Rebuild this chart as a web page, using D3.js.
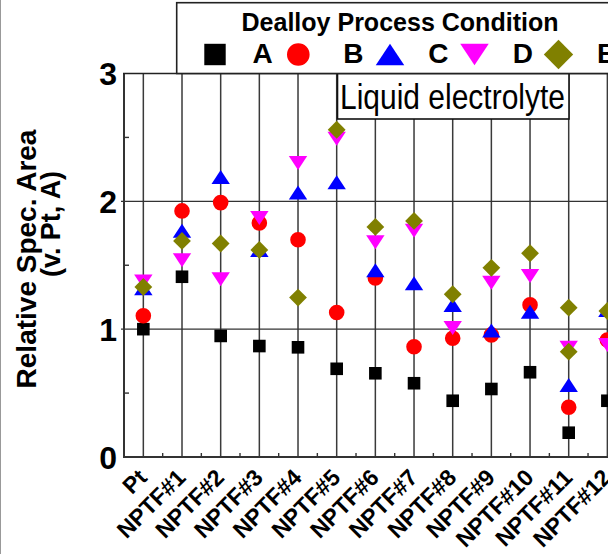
<!DOCTYPE html>
<html>
<head>
<meta charset="utf-8">
<script src="https://cdn.jsdelivr.net/npm/d3@7/dist/d3.min.js"></script>
<style>
  html, body { margin: 0; padding: 0; background: #fff; }
  svg { display: block; }
  text { font-family: "Liberation Sans", Arial, Helvetica, sans-serif; }
</style>
</head>
<body>
<script>
// Samples along the x axis
const categories = ["Pt", "NPTF#1", "NPTF#2", "NPTF#3", "NPTF#4", "NPTF#5", "NPTF#6",
  "NPTF#7", "NPTF#8", "NPTF#9", "NPTF#10", "NPTF#11", "NPTF#12"];

// Relative specific area per dealloy process condition
const seriesA = [1.00, 1.41, 0.947, 0.868, 0.858, 0.69, 0.655, 0.577, 0.44, 0.532, 0.663, 0.19, 0.44];
const seriesB = [1.105, 1.925, 1.99, 1.83, 1.70, 1.13, 1.40, 0.863, 0.929, 0.955, 1.19, 0.389, 0.915];
const seriesC = [1.32, 1.77, 2.19, 1.62, 2.07, 2.15, 1.46, 1.36, 1.19, 0.99, 1.137, 0.563, 1.15];
const seriesD = [1.372, 1.54, 1.39, 1.87, 2.30, 2.49, 1.68, 1.77, 1.01, 1.364, 1.416, 0.855, 0.876];
const seriesE = [1.33, 1.69, 1.67, 1.62, 1.247, 2.56, 1.80, 1.847, 1.273, 1.48, 1.594, 1.168, 1.142];
// second condition-E measurement on NPTF#11
const seriesERepeat = [null, null, null, null, null, null, null, null, null, null, null, 0.824, null];

const seriesNames = ["A", "B", "C", "D", "E"];
const yTicks = [0, 1, 2, 3];
const yGrid = [1, 2];
const yMinor = [0.5, 1.5, 2.5];

const W = 608, H = 554;
const svg = d3.select("body").append("svg").attr("width", W).attr("height", H);

const plotLeft = 124, plotTop = 73.5, plotBottom = 457;
const step = 38.67;

const x = d3.scaleBand().domain(categories)
  .range([plotLeft, plotLeft + step * categories.length]).padding(0);
const cx = c => x(c) + x.bandwidth() / 2;
const y = d3.scaleLinear().domain([0, 3]).range([plotBottom, plotTop]);
const plotRight = plotLeft + step * categories.length + 40;

// marker shapes; "size" is a scale factor
const shapeSquare = { draw(ctx, s) { const h = 6.3 * s; ctx.rect(-h, -h, 2 * h, 2 * h); } };
const shapeCircle = { draw(ctx, s) { const r = 7.8 * s; ctx.moveTo(r, 0); ctx.arc(0, 0, r, 0, 2 * Math.PI); } };
const shapeUp = { draw(ctx, s) { const w = 9.2 * s, h = 7 * s; ctx.moveTo(0, -h); ctx.lineTo(w, h); ctx.lineTo(-w, h); ctx.closePath(); } };
const shapeDown = { draw(ctx, s) { const w = 9.2 * s, h = 7 * s; ctx.moveTo(0, h); ctx.lineTo(w, -h); ctx.lineTo(-w, -h); ctx.closePath(); } };
const shapeDiamond = { draw(ctx, s) { const w = 8.9 * s, h = 8.9 * s; ctx.moveTo(0, -h); ctx.lineTo(w, 0); ctx.lineTo(0, h); ctx.lineTo(-w, 0); ctx.closePath(); } };

const series = [
  { name: "A", values: seriesA, shape: shapeSquare, color: "#000000" },
  { name: "B", values: seriesB, shape: shapeCircle, color: "#ff0000" },
  { name: "C", values: seriesC, shape: shapeUp, color: "#0000ff" },
  { name: "D", values: seriesD, shape: shapeDown, color: "#ff00ff" },
  { name: "E", values: seriesE, shape: shapeDiamond, color: "#808000" }
];
const extraE = { name: "E", values: seriesERepeat, shape: shapeDiamond, color: "#808000" };

// figure edge line
svg.append("line").attr("x1", 0.5).attr("x2", 0.5).attr("y1", 0).attr("y2", H)
  .attr("stroke", "#999").attr("stroke-width", 1);

// vertical drop lines at each sample
svg.append("g").selectAll("line").data(categories).join("line")
  .attr("x1", d => cx(d)).attr("x2", d => cx(d))
  .attr("y1", plotTop).attr("y2", plotBottom)
  .attr("stroke", "#3a3a3a").attr("stroke-width", 1.5);

// horizontal gridlines
svg.append("g").selectAll("line").data(yGrid).join("line")
  .attr("x1", plotLeft - 3).attr("x2", plotRight)
  .attr("y1", d => y(d)).attr("y2", d => y(d))
  .attr("stroke", "#333").attr("stroke-width", 1.4);

// minor y ticks
svg.append("g").selectAll("line").data(yMinor).join("line")
  .attr("x1", plotLeft - 1).attr("x2", plotLeft + 5)
  .attr("y1", d => y(d)).attr("y2", d => y(d))
  .attr("stroke", "#333").attr("stroke-width", 1.4);

// minor x ticks between samples
const mids = categories.map(c => x(c)).slice(1);
svg.append("g").selectAll("line").data(mids).join("line")
  .attr("x1", d => d).attr("x2", d => d)
  .attr("y1", plotBottom).attr("y2", plotBottom - 4)
  .attr("stroke", "#333").attr("stroke-width", 1.4);

// frame: left, bottom, top
svg.append("line").attr("x1", plotLeft).attr("x2", plotLeft)
  .attr("y1", plotTop).attr("y2", plotBottom + 1)
  .attr("stroke", "#333").attr("stroke-width", 2);
svg.append("line").attr("x1", plotLeft - 1).attr("x2", plotRight)
  .attr("y1", plotBottom).attr("y2", plotBottom)
  .attr("stroke", "#333").attr("stroke-width", 2);
svg.append("line").attr("x1", plotLeft - 1).attr("x2", plotRight)
  .attr("y1", plotTop).attr("y2", plotTop)
  .attr("stroke", "#222").attr("stroke-width", 1.6);

// y tick labels
svg.append("g").selectAll("text").data(yTicks).join("text")
  .attr("x", 117).attr("y", d => y(d)).attr("dy", "0.36em")
  .attr("text-anchor", "end").attr("font-weight", "bold").attr("font-size", 32)
  .text(d => d);

// y axis title
svg.append("text")
  .attr("transform", "translate(35.5,259) rotate(-90)")
  .attr("text-anchor", "middle").attr("font-weight", "bold").attr("font-size", 28)
  .text("Relative Spec. Area");
svg.append("text")
  .attr("transform", "translate(60,224) rotate(-90)")
  .attr("text-anchor", "middle").attr("font-weight", "bold").attr("font-size", 27)
  .attr("textLength", 106).attr("lengthAdjust", "spacingAndGlyphs")
  .text("(v. Pt, A)");

// x tick labels
svg.append("g").selectAll("text").data(categories).join("text")
  .attr("transform", d => `translate(${cx(d) + 5},${479}) rotate(-45)`)
  .attr("text-anchor", "end").attr("font-weight", "bold").attr("font-size", 23)
  .text(d => d);

// markers
const symbolGen = d3.symbol();
[...series, extraE].forEach(s => {
  const pts = categories.map((c, i) => ({ c, v: s.values[i] })).filter(p => p.v != null);
  svg.append("g").selectAll("path").data(pts).join("path")
    .attr("transform", p => `translate(${cx(p.c)},${y(p.v)})`)
    .attr("d", symbolGen.type(s.shape).size(1)())
    .attr("fill", s.color);
});

// "Liquid electrolyte" label box
svg.append("rect").attr("x", 337.5).attr("y", 73.5).attr("width", 231.5).attr("height", 45.5)
  .attr("fill", "#fff").attr("stroke", "#111").attr("stroke-width", 1.6);
svg.append("text").attr("x", 340).attr("y", 108.5)
  .attr("font-size", 35).attr("textLength", 225).attr("lengthAdjust", "spacingAndGlyphs")
  .text("Liquid electrolyte");

// legend box
svg.append("rect").attr("x", 176.7).attr("y", 2.7).attr("width", 500).attr("height", 70.8)
  .attr("fill", "#fff").attr("stroke", "#222").attr("stroke-width", 1.6);
svg.append("text").attr("x", 241.5).attr("y", 30.5)
  .attr("font-size", 25).attr("font-weight", "bold")
  .attr("textLength", 317).attr("lengthAdjust", "spacingAndGlyphs")
  .text("Dealloy Process Condition");

const legendSymbolX = [215, 298.3, 390, 474.5, 558.5];
const legendTextX = [252.5, 343.3, 428.3, 512.7, 597];
const legendScale = [1.7, 1.45, 1.55, 1.55, 1.65];
series.forEach((s, i) => {
  svg.append("path")
    .attr("d", symbolGen.type(s.shape).size(1)())
    .attr("fill", s.color)
    .attr("transform", `translate(${legendSymbolX[i]},${54.5}) scale(${legendScale[i]})`);
  svg.append("text").attr("x", legendTextX[i]).attr("y", 63)
    .attr("font-size", 28).attr("font-weight", "bold")
    .text(seriesNames[i]);
});
</script>
</body>
</html>
